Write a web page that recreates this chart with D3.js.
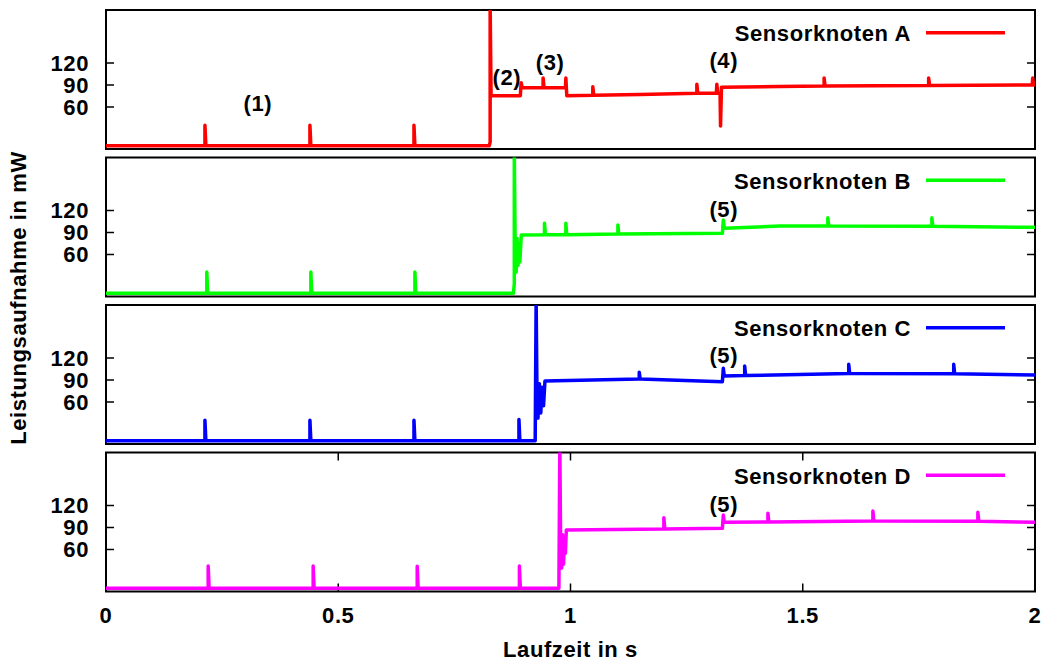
<!DOCTYPE html>
<html><head><meta charset="utf-8">
<script src="https://cdn.jsdelivr.net/npm/d3@7"></script>
<style>
body{margin:0;background:#fff}
text{font-family:"Liberation Sans",Arial,Helvetica,sans-serif;font-weight:bold;font-size:22px;letter-spacing:0.6px;fill:#000}
</style>
</head><body>
<svg id="chart" width="1045" height="663"></svg>
<script>
// ---------- data ----------
const sensorNames = ["Sensorknoten A", "Sensorknoten B", "Sensorknoten C", "Sensorknoten D"];
const sensorColors = ["#ff0000", "#00ff00", "#0000ff", "#ff00ff"];
const yTickValues = [60, 90, 120];
const xTickValues = [0, 0.5, 1, 1.5, 2];
const xTickLabels = ["0", "0.5", "1", "1.5", "2"];

// [Laufzeit s, Leistung mW]
const powerA = [
  [0,7],[0.213,7],[0.213,35],[0.215,7],[0.439,7],[0.439,35],[0.441,7],[0.663,7],[0.663,35],[0.665,7],
  [0.825,7],[0.827,12],[0.827,200],[0.829,75.4],[0.892,75.4],[0.893,86.3],[0.894,93],[0.896,86.3],
  [0.941,86.3],[0.941,99.5],[0.943,86.3],[0.989,86.3],[0.990,99.5],[0.992,75.4],
  [1.048,76],[1.048,87.7],[1.050,76],[1.15,77],[1.272,78.7],[1.272,91],[1.274,78.7],
  [1.314,78.7],[1.315,91],[1.317,78.7],[1.322,78.7],[1.323,34],[1.325,86.8],
  [1.45,88],[1.546,88.5],[1.546,99.5],[1.548,88.5],[1.771,89.2],[1.771,99.5],[1.773,89.2],
  [1.994,90],[1.995,99.5],[1.997,90],[2,90]
];
const powerB = [
  [0,7],[0.217,7],[0.217,36],[0.219,7],[0.441,7],[0.441,36],[0.443,7],[0.665,7],[0.665,36],[0.667,7],
  [0.877,7],[0.879,20],[0.879,200],[0.881,60],[0.883,36],[0.885,82],[0.887,45],[0.889,75],[0.891,50],[0.894,86.6],
  [0.944,86.8],[0.944,102.5],[0.946,86.8],[0.990,87],[0.990,102.5],[0.992,87],
  [1.102,87.8],[1.102,100.2],[1.104,87.8],[1.327,88.9],[1.329,107],[1.331,95.7],
  [1.45,98.9],[1.554,99],[1.554,110],[1.556,99],[1.778,98.5],[1.778,110],[1.780,98.5],[2,97]
];
const powerC = [
  [0,7],[0.213,7],[0.213,35],[0.215,7],[0.439,7],[0.439,35],[0.441,7],[0.663,7],[0.663,35],[0.665,7],
  [0.889,7],[0.889,36],[0.891,7],[0.924,7],[0.926,200],[0.928,60],[0.930,38],[0.933,85],[0.936,45],[0.939,80],[0.942,55],[0.945,88.6],
  [1.148,91.4],[1.148,100.5],[1.150,91.4],[1.327,87.7],[1.329,106],[1.331,95.4],
  [1.375,96],[1.375,109],[1.377,96],[1.599,99],[1.599,111.4],[1.601,99],
  [1.825,98.5],[1.825,111.4],[1.827,98.5],[2,96.8]
];
const powerD = [
  [0,7],[0.220,7],[0.220,37.5],[0.222,7],[0.446,7],[0.446,37.5],[0.448,7],[0.670,7],[0.670,37],[0.672,7],
  [0.890,7],[0.890,37.5],[0.892,7],[0.975,7],[0.977,200],[0.979,50],[0.981,34.7],[0.983,80],[0.985,40],[0.987,75],[0.989,55],[0.991,86.6],
  [1.201,88],[1.201,103.4],[1.203,88],[1.327,88.9],[1.329,107],[1.331,97],
  [1.425,97.5],[1.425,109.4],[1.427,97.5],[1.651,98.9],[1.651,112.5],[1.653,98.9],
  [1.877,98.5],[1.877,110.7],[1.879,98.5],[2,97]
];
const seriesData = [powerA, powerB, powerC, powerD];

// annotations: [panel, t, value, text]
const annotations = [
  [0, 0.327, 65.4, "(1)"],
  [0, 0.863, 101.3, "(2)"],
  [0, 0.956, 121.8, "(3)"],
  [0, 1.330, 124, "(4)"],
  [1, 1.330, 121.6, "(5)"],
  [2, 1.330, 124, "(5)"],
  [3, 1.330, 121.6, "(5)"]
];

const xLabel = "Laufzeit in s";
const yLabel = "Leistungsaufnahme in mW";

// ---------- layout ----------
const svg = d3.select("#chart");
const left = 106, right = 1035;
const panelTops = [10, 157.5, 305, 452.5];
const panelH = 139;
const tickLen = 8;

const x = d3.scaleLinear().domain([0, 2]).range([left, right]);

panelTops.forEach((top, i) => {
  const y = d3.scaleLinear().domain([2.7, 192.3]).range([top + panelH, top]);
  const g = svg.append("g");

  g.append("clipPath").attr("id", "clip" + i)
    .append("rect").attr("x", left).attr("y", top).attr("width", right - left).attr("height", panelH);

  // frame
  g.append("rect").attr("x", left).attr("y", top).attr("width", right - left).attr("height", panelH)
    .attr("fill", "none").attr("stroke", "#000").attr("stroke-width", 2);

  // y ticks (both sides, inward)
  yTickValues.forEach(v => {
    g.append("line").attr("x1", left).attr("x2", left + tickLen).attr("y1", y(v)).attr("y2", y(v))
      .attr("stroke", "#000").attr("stroke-width", 1.5);
    g.append("line").attr("x1", right).attr("x2", right - tickLen).attr("y1", y(v)).attr("y2", y(v))
      .attr("stroke", "#000").attr("stroke-width", 1.5);
    g.append("text").attr("x", left - 17).attr("y", y(v)).attr("dy", "0.36em")
      .attr("text-anchor", "end").text(v);
  });

  // x ticks only on last panel (top and bottom)
  if (i === panelTops.length - 1) {
    xTickValues.forEach((t, k) => {
      g.append("line").attr("x1", x(t)).attr("x2", x(t)).attr("y1", top + panelH).attr("y2", top + panelH - tickLen)
        .attr("stroke", "#000").attr("stroke-width", 1.5);
      g.append("line").attr("x1", x(t)).attr("x2", x(t)).attr("y1", top).attr("y2", top + tickLen)
        .attr("stroke", "#000").attr("stroke-width", 1.5);
      g.append("text").attr("x", x(t)).attr("y", top + panelH + 31)
        .attr("text-anchor", "middle").text(xTickLabels[k]);
    });
  }

  // data line
  const line = d3.line().x(d => x(d[0])).y(d => y(d[1]));
  g.append("path").datum(seriesData[i]).attr("d", line)
    .attr("clip-path", "url(#clip" + i + ")")
    .attr("fill", "none").attr("stroke", sensorColors[i]).attr("stroke-width", 3.5)
    .attr("stroke-linejoin", "round");

  // legend
  g.append("text").attr("x", 911).attr("y", top + 31).attr("text-anchor", "end").text(sensorNames[i]);
  g.append("line").attr("x1", 926).attr("x2", 1005).attr("y1", top + 22.8).attr("y2", top + 22.8)
    .attr("stroke", sensorColors[i]).attr("stroke-width", 3.5);

  // annotations
  annotations.filter(a => a[0] === i).forEach(a => {
    g.append("text").attr("x", x(a[1])).attr("y", y(a[2])).attr("dy", "0.36em")
      .attr("text-anchor", "middle").text(a[3]);
  });
});

// axis titles
svg.append("text").attr("x", (left + right) / 2).attr("y", 657).attr("text-anchor", "middle").text(xLabel);
svg.append("text").attr("transform", "translate(26,298) rotate(-90)").attr("text-anchor", "middle").text(yLabel);
</script>
</body></html>
